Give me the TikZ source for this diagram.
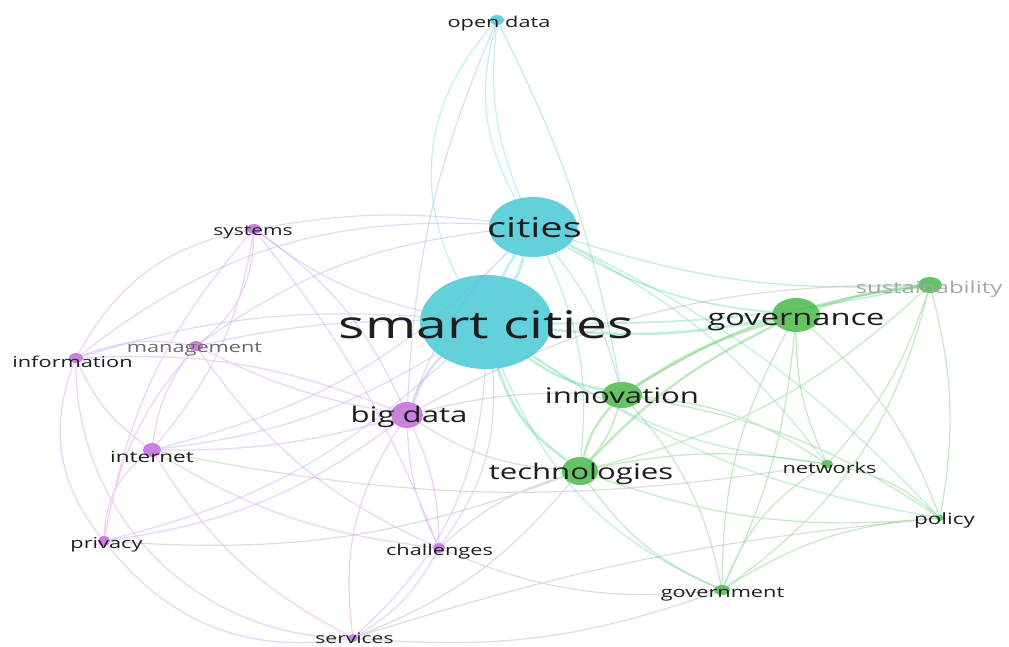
\documentclass[tikz,border=0pt]{standalone}
\usepackage{fontspec}
\usepackage{graphicx}
\usetikzlibrary{shapes.geometric}
\newfontfamily\vosfont{Open Sans}
\newcommand{\wide}[1]{\scalebox{1.45}[1]{#1}}
\definecolor{cyfill}{RGB}{78,202,214}
\definecolor{grfill}{RGB}{80,186,80}
\definecolor{pufill}{RGB}{194,112,216}
\definecolor{cyline}{RGB}{105,215,228}
\definecolor{tlline}{RGB}{95,212,160}
\definecolor{lvline}{RGB}{160,172,236}
\definecolor{puline}{RGB}{212,140,232}
\definecolor{grline}{RGB}{105,200,105}
\definecolor{gyline}{RGB}{170,170,170}
\definecolor{ink}{RGB}{30,30,30}
\pgfdeclarelayer{links}
\pgfsetlayers{links,main}

\begin{document}
\begin{tikzpicture}
[
    x=1pt, y=-1pt,
    blob/.style 2 args={ellipse, inner sep=0pt, minimum width=#1pt, minimum height=#2pt, fill opacity=.88},
    cynode/.style={fill=cyfill},
    grnode/.style={fill=grfill},
    punode/.style={fill=pufill},
    kw/.style={anchor=base, inner sep=0pt, text=ink, font=\vosfont\fontsize{#1}{#1}\selectfont},
    link/.style={draw opacity=.4, line width=1.2pt},
    cyedge/.style={link, cyline},
    tledge/.style={link, tlline},
    lvedge/.style={link, lvline},
    puedge/.style={link, puline},
    gredge/.style={link, grline},
    gyedge/.style={link, gyline},
]
\useasboundingbox (0,0) rectangle (1009,646);

\node[blob={132}{94}, cynode] (smartcities) at (486,322) {};
\node[blob={88}{60}, cynode] (cities) at (533,227) {};
\node[blob={14}{10}, cynode] (opendata) at (497,20) {};
\node[blob={48}{34}, grnode] (governance) at (796,315) {};
\node[blob={24}{16}, grnode] (sustainability) at (930,285) {};
\node[blob={40}{26}, grnode] (innovation) at (622,395) {};
\node[blob={36}{28}, grnode] (technologies) at (580,471) {};
\node[blob={12}{8}, grnode] (networks) at (827,464) {};
\node[blob={8}{6}, grnode] (policy) at (940,518) {};
\node[blob={16}{10}, grnode] (government) at (722,590) {};
\node[blob={32}{26}, punode] (bigdata) at (407,415) {};
\node[blob={14}{10}, punode] (systems) at (254,229) {};
\node[blob={14}{10}, punode] (information) at (76,358) {};
\node[blob={14}{10}, punode] (management) at (196,346) {};
\node[blob={18}{14}, punode] (internet) at (152,450) {};
\node[blob={12}{10}, punode] (privacy) at (104,541) {};
\node[blob={12}{10}, punode] (challenges) at (439,548) {};
\node[blob={10}{8}, punode] (services) at (353,638) {};

\node[kw=38] (t-smartcities) at (486.5,338) {\wide{smart cities}};
\node[kw=27.5] (t-cities) at (534.5,237) {\wide{cities}};
\node[kw=15] (t-opendata) at (499,27) {\wide{open data}};
\node[kw=22.5] (t-governance) at (796,325) {\wide{governance}};
\node[kw=16.5, text={rgb,255:red,168;green,168;blue,168}] (t-sustainability) at (929,293) {\wide{sustainability}};
\node[kw=21.5] (t-innovation) at (622,403) {\wide{innovation}};
\node[kw=21.5] (t-technologies) at (581,479) {\wide{technologies}};
\node[kw=15] (t-networks) at (829.5,473) {\wide{networks}};
\node[kw=15.5] (t-policy) at (944.5,524) {\wide{policy}};
\node[kw=15] (t-government) at (722.5,597) {\wide{government}};
\node[kw=21.5] (t-bigdata) at (409,422) {\wide{big data}};
\node[kw=14.5] (t-systems) at (253,235) {\wide{systems}};
\node[kw=15] (t-information) at (72.5,367) {\wide{information}};
\node[kw=15, text={rgb,255:red,105;green,105;blue,105}] (t-management) at (194.5,352) {\wide{management}};
\node[kw=15.5] (t-internet) at (152,462) {\wide{internet}};
\node[kw=15] (t-privacy) at (106.5,548) {\wide{privacy}};
\node[kw=15] (t-challenges) at (439.5,555) {\wide{challenges}};
\node[kw=14.5] (t-services) at (354.5,643) {\wide{services}};

\begin{pgfonlayer}{links}
\draw[cyedge, line width=3pt] (smartcities) to[bend left=6] (cities) (smartcities) to[bend right=8] (cities);
\draw[cyedge] (opendata) to[bend right=35] (smartcities) (opendata) to[bend right=14] (cities)
    (opendata) to[bend right=22] (cities);
\draw[tledge] (opendata) to[bend left=8] (innovation);
\draw[lvedge] (opendata) to[bend right=10] (bigdata);

\draw[tledge, line width=2.5pt] (smartcities) to[bend right=8] (governance) (smartcities) to[bend right=12] (innovation);
\draw[tledge, line width=3pt] (smartcities) to[bend right=18] (technologies);
\draw[tledge, line width=1.6pt] (smartcities) to[bend right=6] (sustainability) (cities) to[bend right=12] (governance);
\draw[tledge] (smartcities) to[bend right=14] (networks) (smartcities) to[bend right=12] (policy)
    (smartcities) to[bend right=22] (government) (cities) to[bend right=10] (sustainability)
    (cities) to[bend left=12] (innovation) (cities) to[bend left=15] (technologies)
    (cities) to[bend left=12] (networks) (cities) to[bend left=10] (policy);

\draw[lvedge, line width=2.5pt] (smartcities) to[bend right=12] (bigdata);
\draw[lvedge] (smartcities) to[bend left=12] (systems) (smartcities) to[bend right=10] (information)
    (smartcities) to[bend right=6] (management) (smartcities) to[bend left=12] (internet)
    (smartcities) to[bend left=14] (privacy) (smartcities) to[bend left=20] (challenges)
    (smartcities) to[bend left=22] (services) (cities) to[bend right=8] (systems)
    (cities) to[bend right=12] (bigdata) (cities) to[bend right=20] (information)
    (cities) to[bend right=14] (management) (cities) to[bend left=15] (internet);

\draw[puedge] (systems) to[bend right=25] (information) (systems) to[bend left=25] (management)
    (systems) to[bend left=15] (internet) (systems) to[bend left=15] (bigdata)
    (systems) to[bend right=15] (privacy) (information) to[bend left=15] (management)
    (information) to[bend right=15] (internet) (information) to[bend right=30] (privacy)
    (information) to[bend right=45] (services) (information) to[bend left=12] (bigdata)
    (management) to[bend right=15] (challenges) (management) to[bend right=8] (bigdata)
    (management) to[bend right=15] (internet) (management) to[bend right=15] (privacy)
    (internet) to[bend right=8] (bigdata) (internet) to[bend right=25] (privacy)
    (internet) to[bend right=15] (services) (internet) to[bend right=12] (challenges)
    (privacy) to[bend right=14] (bigdata) (privacy) to[bend right=30] (services)
    (bigdata) to[bend right=12] (challenges) (bigdata) to[bend left=12] (challenges)
    (bigdata) to[bend right=20] (services) (challenges) to[bend left=15] (services)
    (systems) to[bend left=8] (challenges);

\draw[gredge, line width=3pt] (governance) to[bend left=6] (sustainability) (governance) to[bend right=8] (innovation);
\draw[gredge, line width=2.5pt] (governance) to[bend right=10] (technologies) (innovation) to[bend right=14] (technologies);
\draw[gredge, line width=1.5pt] (sustainability) to[bend right=12] (innovation) (innovation) to[bend left=12] (technologies);
\draw[gredge] (governance) to[bend right=12] (networks) (governance) to[bend left=14] (policy)
    (governance) to[bend right=14] (government) (sustainability) to[bend left=14] (technologies)
    (sustainability) to[bend left=12] (policy) (sustainability) to[bend left=12] (networks)
    (sustainability) to[bend left=20] (government) (innovation) to[bend left=14] (networks)
    (innovation) to[bend left=12] (policy) (innovation) to[bend left=15] (government)
    (technologies) to[bend left=10] (networks) (technologies) to[bend right=12] (policy)
    (technologies) to[bend right=15] (government) (networks) to[bend left=15] (policy)
    (networks) to[bend right=18] (government) (policy) to[bend right=14] (government)
    (governance) to[bend left=10] (government);

\draw[gyedge] (bigdata) to[bend left=8] (innovation) (bigdata) to[bend right=14] (technologies)
    (bigdata) to[bend left=14] (sustainability) (internet) to[bend right=10] (networks)
    (privacy) to[bend right=12] (technologies) (challenges) to[bend left=12] (technologies)
    (challenges) to[bend right=14] (government) (services) to[bend right=14] (technologies)
    (services) to[bend right=12] (government) (services) to[bend left=6] (policy);
\end{pgfonlayer}
\end{tikzpicture}
\end{document}
